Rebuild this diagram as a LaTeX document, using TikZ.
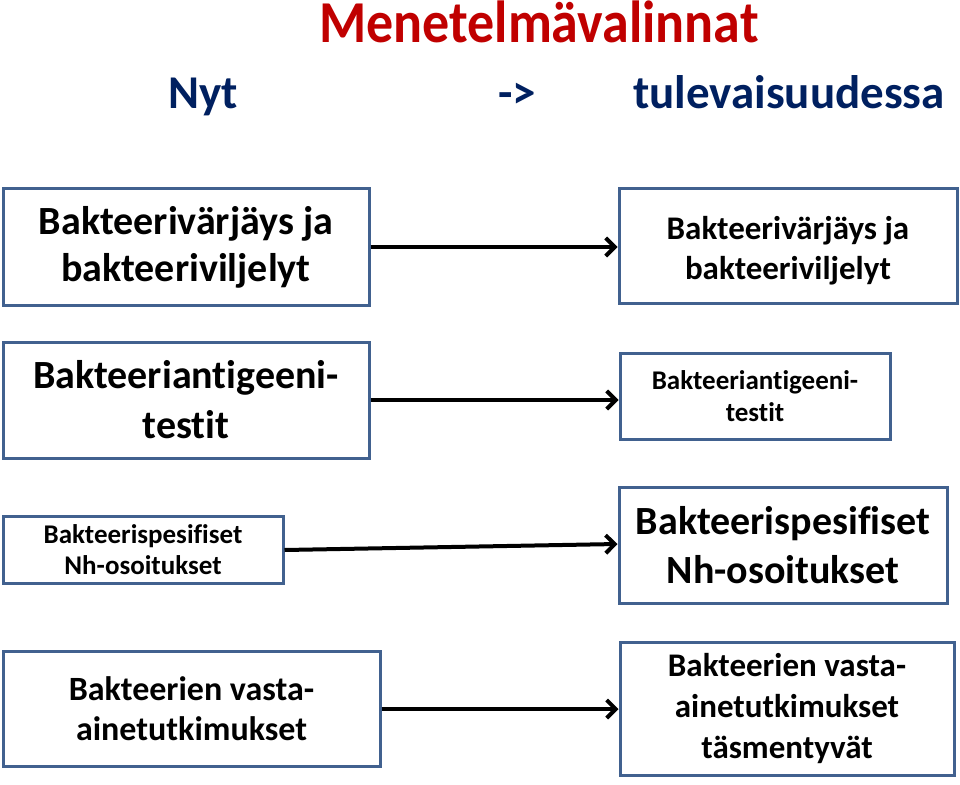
\documentclass[tikz,border=0pt]{standalone}
\usepackage{fontspec}
\setmainfont{Carlito}[Ligatures=NoCommon]
\usetikzlibrary{arrows.meta}
\definecolor{titlered}{HTML}{C00000}
\definecolor{headblue}{HTML}{002060}
\definecolor{boxblue}{HTML}{41618F}
\newcommand{\fs}[2]{\fontsize{#1}{#2}\selectfont}
\tikzset{
  box/.style={draw=boxblue, line width=3pt, fill=white, align=center, inner sep=0pt, font=\bfseries},
  conn/.style={line width=4pt, -{Straight Barb[length=9pt, width=18pt, line width=4pt]}},
  head/.style={anchor=base west, inner sep=0pt, text=headblue, font=\bfseries\fs{47}{50}},
}
\begin{document}
\begin{tikzpicture}[x=1pt, y=-1pt]
\useasboundingbox (0,0) rectangle (960,784);
% title and header
\node[anchor=base, inner sep=0pt, text=titlered, font=\bfseries\fs{54}{58}, yscale=1.1] (title) at (539,43) {Menetelmävalinnat};
\node[head] (nyt) at (168,108) {Nyt};
\node[head] (to) at (498,108) {->};
\node[head] (tul) at (633,108) {tulevaisuudessa};
% left boxes
\node[box, minimum width=366pt, minimum height=117pt, font=\bfseries\fs{40}{47}] (l1) at (186,247) {Bakteerivärjäys ja\\bakteeriviljelyt};
\node[box, minimum width=366pt, minimum height=116pt, font=\bfseries\fs{40}{50}] (l2) at (186,400) {Bakteeriantigeeni-\\testit};
\node[box, minimum width=280pt, minimum height=67pt, font=\bfseries\fs{27}{31}] (l3) at (143,550) {Bakteerispesifiset\\Nh-osoitukset};
\node[box, minimum width=377pt, minimum height=115pt, font=\bfseries\fs{34}{40}] (l4) at (191.5,709) {Bakteerien vasta-\\ainetutkimukset};
% right boxes
\node[box, minimum width=338pt, minimum height=115pt, font=\bfseries\fs{33}{40}] (r1) at (788,246) {\rule{0pt}{33pt}Bakteerivärjäys ja\\bakteeriviljelyt};
\node[box, minimum width=270pt, minimum height=86pt, font=\bfseries\fs{27}{32}] (r2) at (755,396) {Bakteeriantigeeni-\\testit};
\node[box, minimum width=328pt, minimum height=116pt, font=\bfseries\fs{40}{49}] (r3) at (783,545) {Bakteerispesifiset\\Nh-osoitukset};
\node[box, minimum width=334pt, minimum height=133pt, font=\bfseries\fs{33}{41}] (r4) at (787,709) {Bakteerien vasta-\\ainetutkimukset\\täsmentyvät};
\coordinate (r3in) at (r3.west |- 0,544);
% connectors
\draw[conn] (l1.east) -- (r1.west |- l1.east);
\draw[conn] (l2.east) -- (r2.west |- l2.east);
\draw[conn] (l3.east) -- (r3in);
\draw[conn] (l4.east) -- (r4.west |- l4.east);
\end{tikzpicture}
\end{document}
